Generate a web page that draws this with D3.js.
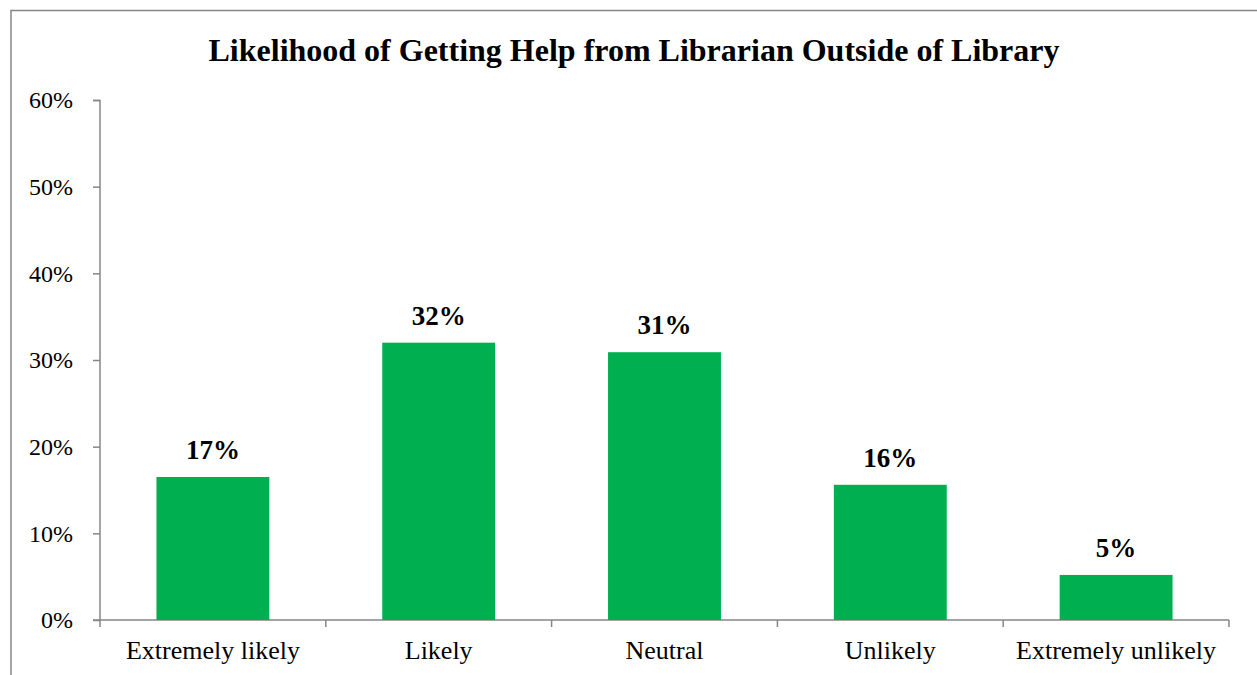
<!DOCTYPE html>
<html>
<head>
<meta charset="utf-8">
<script src="https://cdn.jsdelivr.net/npm/d3@7"></script>
<style>
  body { margin: 0; background: #fff; }
  text { font-family: "Liberation Serif", "Times New Roman", serif; }
</style>
</head>
<body>
<div class="chart"></div>
<script>
var svgWidth = 1257;
var svgHeight = 675;

// data
var categories = ["Extremely likely", "Likely", "Neutral", "Unlikely", "Extremely unlikely"];
var values = [0.165, 0.32, 0.309, 0.156, 0.052];
var valueLabels = ["17%", "32%", "31%", "16%", "5%"];
var yTicks = [0, 0.1, 0.2, 0.3, 0.4, 0.5, 0.6];

var margin = { top: 100, right: 28, bottom: 55, left: 100 };
var width = svgWidth - margin.left - margin.right;
var height = svgHeight - margin.top - margin.bottom;

var svg = d3.select(".chart")
  .append("svg")
  .attr("width", svgWidth)
  .attr("height", svgHeight);

// outer chart border (right/bottom run off the picture)
svg.append("rect")
  .attr("x", 11)
  .attr("y", 10.5)
  .attr("width", 1270)
  .attr("height", 700)
  .attr("fill", "none")
  .attr("stroke", "#868686")
  .attr("stroke-width", 1.5);

svg.append("text")
  .attr("x", 634)
  .attr("y", 61)
  .attr("text-anchor", "middle")
  .style("font-size", "32px")
  .style("font-weight", "bold")
  .text("Likelihood of Getting Help from Librarian Outside of Library");

var chartGroup = svg.append("g")
  .attr("transform", `translate(${margin.left}, ${margin.top})`);

var xScale = d3.scaleBand()
  .domain(categories)
  .range([0, width])
  .paddingInner(0.5)
  .paddingOuter(0.25);

var yScale = d3.scaleLinear()
  .domain([0, 0.6])
  .range([height, 0]);

// y axis
var leftAxis = d3.axisLeft(yScale)
  .tickValues(yTicks)
  .tickFormat(d3.format(".0%"))
  .tickSize(7)
  .tickPadding(20);

var yAxisG = chartGroup.append("g").call(leftAxis);
yAxisG.attr("font-family", null);
yAxisG.select(".domain").attr("stroke", "#868686").attr("stroke-width", 1.5)
  .attr("d", `M-7,0.5H0V${height}`);
yAxisG.selectAll(".tick line").attr("stroke", "#868686").attr("stroke-width", 1.5);
yAxisG.selectAll(".tick text")
  .style("font-size", "24px")
  .attr("fill", "#000");

// x axis: ticks between categories
var xAxisG = chartGroup.append("g")
  .attr("transform", `translate(0, ${height})`);
xAxisG.append("line")
  .attr("x1", -7).attr("x2", width)
  .attr("stroke", "#868686").attr("stroke-width", 1.5);
xAxisG.selectAll("line.sep")
  .data(d3.range(categories.length + 1))
  .enter()
  .append("line")
  .attr("class", "sep")
  .attr("x1", i => i * width / categories.length)
  .attr("x2", i => i * width / categories.length)
  .attr("y1", 0).attr("y2", 7)
  .attr("stroke", "#868686").attr("stroke-width", 1.5);
xAxisG.selectAll("text.cat")
  .data(categories)
  .enter()
  .append("text")
  .attr("class", "cat")
  .attr("x", d => xScale(d) + xScale.bandwidth() / 2)
  .attr("y", 39)
  .attr("text-anchor", "middle")
  .style("font-size", "26px")
  .text(d => d);

// bars
chartGroup.selectAll("rect.bar")
  .data(values)
  .enter()
  .append("rect")
  .attr("class", "bar")
  .attr("x", (d, i) => xScale(categories[i]))
  .attr("y", d => yScale(d))
  .attr("width", xScale.bandwidth())
  .attr("height", d => height - yScale(d))
  .attr("fill", "#00B050");

// value labels
chartGroup.selectAll("text.val")
  .data(values)
  .enter()
  .append("text")
  .attr("class", "val")
  .attr("x", (d, i) => xScale(categories[i]) + xScale.bandwidth() / 2)
  .attr("y", d => yScale(d) - 18)
  .attr("text-anchor", "middle")
  .style("font-size", "27px")
  .style("font-weight", "bold")
  .text((d, i) => valueLabels[i]);
</script>
</body>
</html>
